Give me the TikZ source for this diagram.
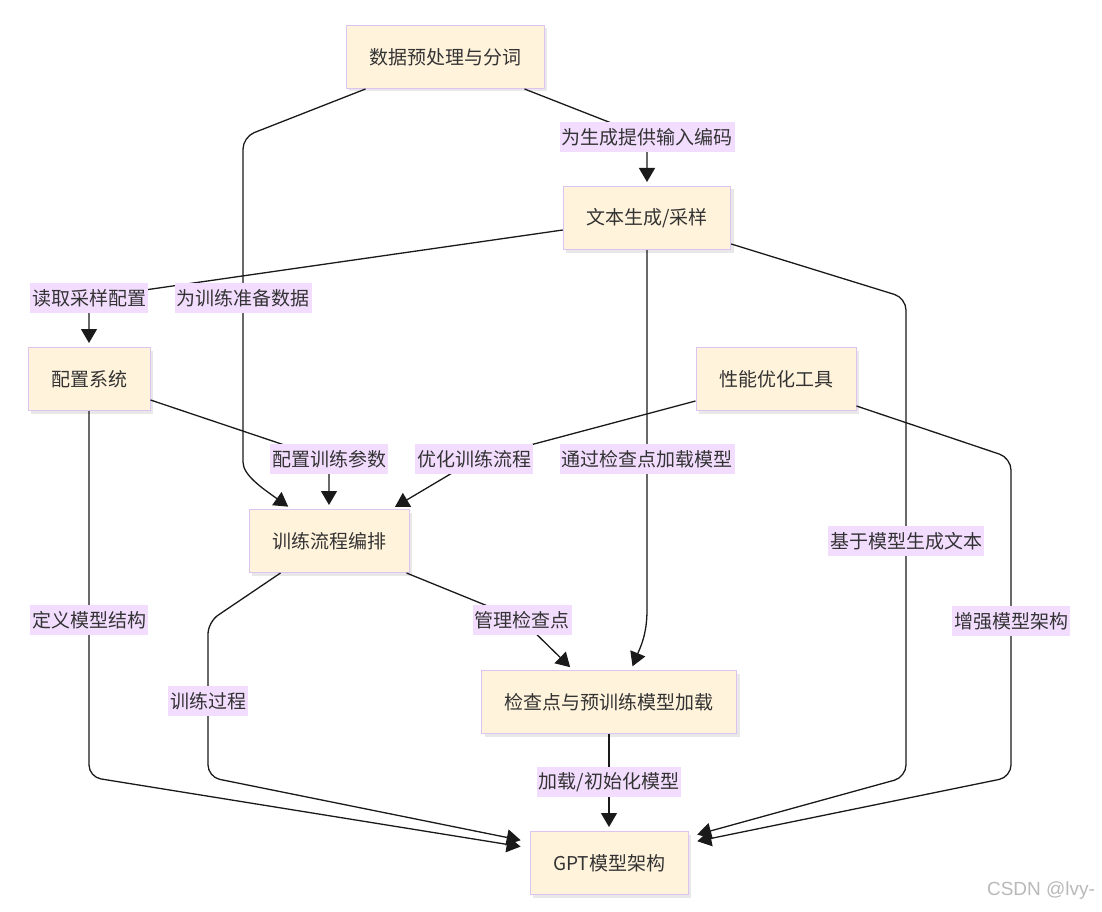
\documentclass[tikz,border=0pt]{standalone}
\usepackage{fontspec}
\setmainfont{Noto Sans CJK SC}
\newfontfamily\wmfont{Liberation Sans}
\definecolor{BoxFill}{HTML}{FFF3DC}
\definecolor{BoxLine}{HTML}{DCC3F0}
\definecolor{LblFill}{HTML}{F3DDFF}
\definecolor{Ink}{HTML}{333333}
\definecolor{Wire}{HTML}{1A1A1A}
\usetikzlibrary{arrows.meta, shadows, calc}

\begin{document}
\begin{tikzpicture}[x=1pt, y=-1pt,
    box/.style={draw=BoxLine, fill=BoxFill, line width=1pt, minimum height=63pt, inner xsep=23pt,
      text=Ink, font=\fontsize{19pt}{23pt}\selectfont,
      drop shadow={shadow xshift=3pt, shadow yshift=-3pt, opacity=0.18}},
    lbl/.style={fill=LblFill, inner xsep=2pt, inner ysep=0pt, minimum height=30pt,
      text=Ink, font=\fontsize{19pt}{23pt}\selectfont},
    link/.style={draw=Wire, line width=1.3pt, rounded corners=12pt,
      -{Triangle[length=14pt,width=16pt]}, shorten >=4pt},
    side/.style={shorten >=9pt}]
    \fill[white] (0,0) rectangle (1102,912);
    \useasboundingbox (0,0) rectangle (1102,912);

    % boxes
    \node[box] (prep) at (445,57) {数据预处理与分词};
    \node[box] (gen) at (647,218) {文本生成/采样};
    \node[box] (cfg) at (89,379) {配置系统};
    \node[box] (perf) at (776,379) {性能优化工具};
    \node[box] (train) at (329,541) {训练流程编排};
    \node[box] (ckpt) at (609,702) {检查点与预训练模型加载};
    \node[box] (gpt) at (609,863) {GPT模型架构};

    % connectors
    \draw[link] ($(prep.south west)+(20,0)$) -- (243,137) -- (243,450)
      .. controls (243,475) and (262,488) .. ($(train.north west)+(43,0)$);
    \draw[link] ($(prep.south east)+(-20,0)$) -- (647,137) -- (gen.north);
    \draw[link] ($(gen.west)+(0,12)$) -- (89,298) -- (cfg.north);
    \draw[link] (gen.south) -- (647,598)
      .. controls (647,635) and (640,648) .. ($(ckpt.north)+(22,0)$);
    \draw[link, side] ($(gen.east)+(0,26)$) -- (906,298) -- (906,777) -- ($(gpt.east)+(0,-26)$);
    \draw[link] ($(cfg.east)+(0,21)$) -- (329,460) -- (train.north);
    \draw[link, side] (cfg.south) -- (89,777) -- ($(gpt.west)+(0,-15)$);
    \draw[link] ($(perf.south west)+(0,-10)$) -- (474,460) -- ($(train.north east)+(-18,0)$);
    \draw[link, side] ($(perf.east)+(0,27)$) -- (1011,458) -- (1011,777) -- ($(gpt.east)+(0,-20)$);
    \draw[link, side] ($(train.south west)+(32,0)$) -- (208,622) -- (208,777) -- ($(gpt.west)+(0,-21)$);
    \draw[link] ($(train.south east)+(-3,0)$) -- (522,620) -- ($(ckpt.north west)+(92,0)$);
    \draw[link] (ckpt.south) -- (gpt.north);

    % edge labels
    \node[lbl] (lEnc) at (647,137) {为生成提供输入编码};
    \node[lbl] (lSample) at (89,298) {读取采样配置};
    \node[lbl] (lData) at (243,298) {为训练准备数据};
    \node[lbl] (lParam) at (329,459) {配置训练参数};
    \node[lbl] (lOpt) at (474,459) {优化训练流程};
    \node[lbl] (lViaCkpt) at (647,459) {通过检查点加载模型};
    \node[lbl] (lGen) at (906,541) {基于模型生成文本};
    \node[lbl] (lDef) at (89,620) {定义模型结构};
    \node[lbl] (lManage) at (522,620) {管理检查点};
    \node[lbl] (lEnh) at (1011,621) {增强模型架构};
    \node[lbl] (lProc) at (208,701) {训练过程};
    \node[lbl] (lLoad) at (609,782) {加载/初始化模型};

    %\draw[help lines] (0,0) grid[step=50] (1102,912);
    \node[text=gray!55, font=\wmfont\fontsize{19pt}{22pt}\selectfont] (mark) at (1041,891) {CSDN @lvy-};
\end{tikzpicture}
\end{document}
